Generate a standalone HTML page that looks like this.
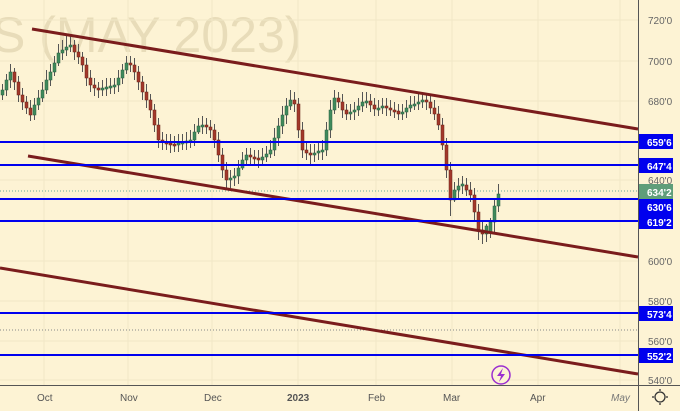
<!DOCTYPE html>
<html><head><meta charset="utf-8"><style>
html,body{margin:0;padding:0;background:#fdf3d4;}
svg{display:block;font-family:"Liberation Sans",sans-serif;}
.g{fill:#3f8a5c;stroke:#2d5e40;stroke-width:0.5}
.r{fill:#a3382a;stroke:#6b2419;stroke-width:0.5}
</style></head><body>
<svg width="680" height="411" viewBox="0 0 680 411" xmlns="http://www.w3.org/2000/svg">
<rect width="680" height="411" fill="#fdf3d4"/>
<text x="-8" y="52" font-size="50" fill="#e8dcb9">S (MAY 2023)</text>
<g stroke="#f1e7c6" stroke-width="1">
<line x1="44" y1="0" x2="44" y2="385"/><line x1="128" y1="0" x2="128" y2="385"/><line x1="212" y1="0" x2="212" y2="385"/><line x1="298" y1="0" x2="298" y2="385"/><line x1="376" y1="0" x2="376" y2="385"/><line x1="452" y1="0" x2="452" y2="385"/><line x1="538" y1="0" x2="538" y2="385"/><line x1="620" y1="0" x2="620" y2="385"/>
<line x1="0" y1="20" x2="638" y2="20"/><line x1="0" y1="61" x2="638" y2="61"/><line x1="0" y1="101" x2="638" y2="101"/><line x1="0" y1="180" x2="638" y2="180"/><line x1="0" y1="261" x2="638" y2="261"/><line x1="0" y1="301" x2="638" y2="301"/><line x1="0" y1="341" x2="638" y2="341"/><line x1="0" y1="380" x2="638" y2="380"/>
</g>
<line x1="0" y1="191" x2="638" y2="191" stroke="#6a9" stroke-dasharray="1,2"/>
<line x1="0" y1="330" x2="638" y2="330" stroke="#888" stroke-dasharray="1,2"/>
<path fill="none" stroke="#555" stroke-width="1" d="M2.5 84V100M6.5 74V96M10.5 64V88M14.5 68V90M18.5 76V102M22.5 88V110M26.5 96V114M30.5 100V121M34.5 98V120M38.5 90V110M42.5 82V102M46.5 70V94M50.5 64V86M54.5 56V76M58.5 44V66M62.5 40V60M66.5 36V56M70.5 36V52M74.5 40V60M78.5 44V64M82.5 52V72M86.5 58V86M90.5 70V92M94.5 78V96M98.5 82V98M102.5 80V96M106.5 78V96M110.5 78V94M114.5 78V94M118.5 70V92M122.5 64V84M126.5 56V74M130.5 56V72M134.5 58V80M138.5 66V90M142.5 76V100M146.5 84V108M150.5 94V118M154.5 104V132M158.5 118V148M162.5 132V150M166.5 134V150M170.5 134V153M174.5 136V152M178.5 134V152M182.5 134V150M186.5 132V150M190.5 130V148M194.5 124V146M198.5 118V134M202.5 116V134M206.5 118V134M210.5 120V138M214.5 124V148M218.5 132V162M222.5 148V178M226.5 162V188M230.5 170V188M234.5 168V186M238.5 160V184M242.5 152V170M246.5 148V164M250.5 148V166M254.5 150V165M258.5 150V168M262.5 148V166M266.5 146V162M270.5 140V158M274.5 128V156M278.5 118V146M282.5 106V134M286.5 98V124M290.5 90V110M294.5 92V112M298.5 98V138M302.5 122V158M306.5 142V160M310.5 144V164M314.5 144V162M318.5 142V160M322.5 140V160M326.5 122V156M330.5 100V138M334.5 90V114M338.5 92V108M342.5 94V118M346.5 104V120M350.5 104V120M354.5 102V120M358.5 98V116M362.5 92V112M366.5 92V108M370.5 94V112M374.5 98V116M378.5 100V116M382.5 98V114M386.5 98V116M390.5 100V116M394.5 102V118M398.5 104V120M402.5 104V120M406.5 100V118M410.5 96V112M414.5 96V110M418.5 94V110M422.5 92V108M426.5 94V110M430.5 96V114M434.5 100V120M438.5 106V130M442.5 118V150M446.5 138V178M450.5 162V216M454.5 182V202M458.5 178V200M462.5 176V194M466.5 178V196M470.5 182V202M474.5 188V220M478.5 204V240M482.5 220V244M486.5 224V242M490.5 218V238M494.5 200V232M498.5 184V212"/>
<g>
<rect class="g" x="1" y="90" width="3" height="5"/><rect class="g" x="5" y="80" width="3" height="10"/><rect class="g" x="9" y="72" width="3" height="8"/><rect class="r" x="13" y="72" width="3" height="10"/><rect class="r" x="17" y="82" width="3" height="13"/><rect class="r" x="21" y="95" width="3" height="7"/><rect class="r" x="25" y="102" width="3" height="6"/><rect class="r" x="29" y="108" width="3" height="7"/><rect class="g" x="33" y="105" width="3" height="10"/><rect class="g" x="37" y="98" width="3" height="7"/><rect class="g" x="41" y="90" width="3" height="8"/><rect class="g" x="45" y="80" width="3" height="10"/><rect class="g" x="49" y="72" width="3" height="8"/><rect class="g" x="53" y="63" width="3" height="9"/><rect class="g" x="57" y="53" width="3" height="10"/><rect class="g" x="61" y="50" width="3" height="3"/><rect class="g" x="65" y="47" width="3" height="3"/><rect class="g" x="69" y="45" width="3" height="2"/><rect class="r" x="73" y="45" width="3" height="7"/><rect class="r" x="77" y="52" width="3" height="5"/><rect class="r" x="81" y="57" width="3" height="8"/><rect class="r" x="85" y="65" width="3" height="13"/><rect class="r" x="89" y="78" width="3" height="7"/><rect class="r" x="93" y="85" width="3" height="3"/><rect class="r" x="97" y="88" width="3" height="2"/><rect class="g" x="101" y="88" width="3" height="2"/><rect class="g" x="105" y="87" width="3" height="2"/><rect class="g" x="109" y="86" width="3" height="2"/><rect class="g" x="113" y="85" width="3" height="2"/><rect class="g" x="117" y="78" width="3" height="7"/><rect class="g" x="121" y="70" width="3" height="8"/><rect class="g" x="125" y="63" width="3" height="7"/><rect class="r" x="129" y="63" width="3" height="2"/><rect class="r" x="133" y="65" width="3" height="7"/><rect class="r" x="137" y="72" width="3" height="10"/><rect class="r" x="141" y="82" width="3" height="10"/><rect class="r" x="145" y="92" width="3" height="8"/><rect class="r" x="149" y="100" width="3" height="10"/><rect class="r" x="153" y="110" width="3" height="15"/><rect class="r" x="157" y="125" width="3" height="15"/><rect class="r" x="161" y="140" width="3" height="2"/><rect class="r" x="165" y="142" width="3" height="2"/><rect class="r" x="169" y="143" width="3" height="2"/><rect class="r" x="173" y="144" width="3" height="2"/><rect class="g" x="177" y="143" width="3" height="2"/><rect class="g" x="181" y="142" width="3" height="2"/><rect class="g" x="185" y="141" width="3" height="2"/><rect class="g" x="189" y="140" width="3" height="2"/><rect class="g" x="193" y="132" width="3" height="8"/><rect class="g" x="197" y="126" width="3" height="6"/><rect class="g" x="201" y="125" width="3" height="2"/><rect class="r" x="205" y="125" width="3" height="2"/><rect class="r" x="209" y="127" width="3" height="3"/><rect class="r" x="213" y="130" width="3" height="10"/><rect class="r" x="217" y="140" width="3" height="15"/><rect class="r" x="221" y="155" width="3" height="15"/><rect class="r" x="225" y="170" width="3" height="10"/><rect class="g" x="229" y="178" width="3" height="2"/><rect class="g" x="233" y="176" width="3" height="2"/><rect class="g" x="237" y="168" width="3" height="8"/><rect class="g" x="241" y="160" width="3" height="8"/><rect class="g" x="245" y="155" width="3" height="5"/><rect class="r" x="249" y="155" width="3" height="2"/><rect class="r" x="253" y="157" width="3" height="2"/><rect class="r" x="257" y="158" width="3" height="2"/><rect class="g" x="261" y="157" width="3" height="3"/><rect class="g" x="265" y="154" width="3" height="3"/><rect class="g" x="269" y="150" width="3" height="4"/><rect class="g" x="273" y="138" width="3" height="12"/><rect class="g" x="277" y="126" width="3" height="12"/><rect class="g" x="281" y="115" width="3" height="11"/><rect class="g" x="285" y="106" width="3" height="9"/><rect class="g" x="289" y="100" width="3" height="6"/><rect class="r" x="293" y="100" width="3" height="4"/><rect class="r" x="297" y="104" width="3" height="26"/><rect class="r" x="301" y="130" width="3" height="20"/><rect class="r" x="305" y="150" width="3" height="3"/><rect class="r" x="309" y="153" width="3" height="2"/><rect class="g" x="313" y="153" width="3" height="2"/><rect class="g" x="317" y="151" width="3" height="2"/><rect class="g" x="321" y="150" width="3" height="2"/><rect class="g" x="325" y="130" width="3" height="20"/><rect class="g" x="329" y="110" width="3" height="20"/><rect class="g" x="333" y="98" width="3" height="12"/><rect class="r" x="337" y="98" width="3" height="4"/><rect class="r" x="341" y="102" width="3" height="8"/><rect class="r" x="345" y="110" width="3" height="4"/><rect class="g" x="349" y="112" width="3" height="2"/><rect class="g" x="353" y="110" width="3" height="2"/><rect class="g" x="357" y="106" width="3" height="4"/><rect class="g" x="361" y="102" width="3" height="4"/><rect class="g" x="365" y="101" width="3" height="2"/><rect class="r" x="369" y="101" width="3" height="4"/><rect class="r" x="373" y="105" width="3" height="4"/><rect class="g" x="377" y="108" width="3" height="2"/><rect class="g" x="381" y="106" width="3" height="2"/><rect class="r" x="385" y="106" width="3" height="2"/><rect class="r" x="389" y="108" width="3" height="2"/><rect class="r" x="393" y="110" width="3" height="2"/><rect class="r" x="397" y="111" width="3" height="3"/><rect class="g" x="401" y="112" width="3" height="2"/><rect class="g" x="405" y="108" width="3" height="4"/><rect class="g" x="409" y="105" width="3" height="3"/><rect class="g" x="413" y="104" width="3" height="2"/><rect class="g" x="417" y="102" width="3" height="2"/><rect class="g" x="421" y="100" width="3" height="2"/><rect class="r" x="425" y="100" width="3" height="2"/><rect class="r" x="429" y="102" width="3" height="6"/><rect class="r" x="433" y="108" width="3" height="6"/><rect class="r" x="437" y="114" width="3" height="11"/><rect class="r" x="441" y="125" width="3" height="20"/><rect class="r" x="445" y="145" width="3" height="25"/><rect class="r" x="449" y="170" width="3" height="30"/><rect class="g" x="453" y="190" width="3" height="10"/><rect class="g" x="457" y="186" width="3" height="4"/><rect class="g" x="461" y="184" width="3" height="2"/><rect class="r" x="465" y="185" width="3" height="5"/><rect class="r" x="469" y="190" width="3" height="5"/><rect class="r" x="473" y="195" width="3" height="17"/><rect class="r" x="477" y="212" width="3" height="18"/><rect class="r" x="481" y="230" width="3" height="4"/><rect class="g" x="485" y="226" width="3" height="8"/><rect class="g" x="489" y="222" width="3" height="10"/><rect class="g" x="493" y="206" width="3" height="16"/><rect class="g" x="497" y="194" width="3" height="12"/>
</g>
<g stroke="#7a1c1c" stroke-width="3">
<line x1="32" y1="29" x2="638" y2="129"/><line x1="28" y1="156" x2="638" y2="257"/><line x1="0" y1="268" x2="638" y2="374"/>
</g>
<g stroke="#0000ee" stroke-width="2">
<line x1="0" y1="142" x2="638" y2="142"/><line x1="0" y1="165" x2="638" y2="165"/><line x1="0" y1="199" x2="638" y2="199"/><line x1="0" y1="221" x2="638" y2="221"/><line x1="0" y1="313" x2="638" y2="313"/><line x1="0" y1="355" x2="638" y2="355"/>
</g>
<rect x="638" y="0" width="42" height="411" fill="#fdf3d4"/>
<rect x="0" y="385" width="680" height="26" fill="#fdf3d4"/>
<line x1="638.5" y1="0" x2="638.5" y2="411" stroke="#555"/>
<line x1="0" y1="385.5" x2="680" y2="385.5" stroke="#555"/>
<g font-size="10" fill="#666">
<text x="648" y="24">720'0</text><text x="648" y="65">700'0</text><text x="648" y="105">680'0</text><text x="648" y="184">640'0</text><text x="648" y="265">600'0</text><text x="648" y="305">580'0</text><text x="648" y="345">560'0</text><text x="648" y="384">540'0</text>
</g>
<g font-size="10" fill="#fff" font-weight="bold">
<rect x="639" y="134" width="34" height="15" fill="#0000ee"/><text x="647" y="146">659'6</text>
<rect x="639" y="158" width="34" height="15" fill="#0000ee"/><text x="647" y="170">647'4</text>
<rect x="639" y="184" width="34" height="15" fill="#5f9e7a"/><text x="647" y="196">634'2</text>
<rect x="639" y="199" width="34" height="15" fill="#0000ee"/><text x="647" y="211">630'6</text>
<rect x="639" y="214" width="34" height="15" fill="#0000ee"/><text x="647" y="226">619'2</text>
<rect x="639" y="306" width="34" height="15" fill="#0000ee"/><text x="647" y="318">573'4</text>
<rect x="639" y="348" width="34" height="15" fill="#0000ee"/><text x="647" y="360">552'2</text>
</g>
<g font-size="10" fill="#555">
<text x="37" y="401">Oct</text><text x="120" y="401">Nov</text><text x="204" y="401">Dec</text><text x="287" y="401" font-weight="bold">2023</text><text x="368" y="401">Feb</text><text x="443" y="401">Mar</text><text x="530" y="401">Apr</text><text x="611" y="401" font-style="italic" fill="#777">May</text>
</g>
<circle cx="660" cy="397" r="5" fill="none" stroke="#333" stroke-width="1.3"/>
<g stroke="#333" stroke-width="1.3"><line x1="660" y1="389" x2="660" y2="391"/><line x1="660" y1="403" x2="660" y2="405"/><line x1="652" y1="397" x2="654" y2="397"/><line x1="666" y1="397" x2="668" y2="397"/></g>
<circle cx="501" cy="375" r="9" fill="#fdf3d4" stroke="#9b2fd0" stroke-width="1.5"/>
<path d="M503 368 L497 376 L501 376 L499 382 L505 374 L501 374 Z" fill="#9b2fd0"/>
</svg>
</body></html>
